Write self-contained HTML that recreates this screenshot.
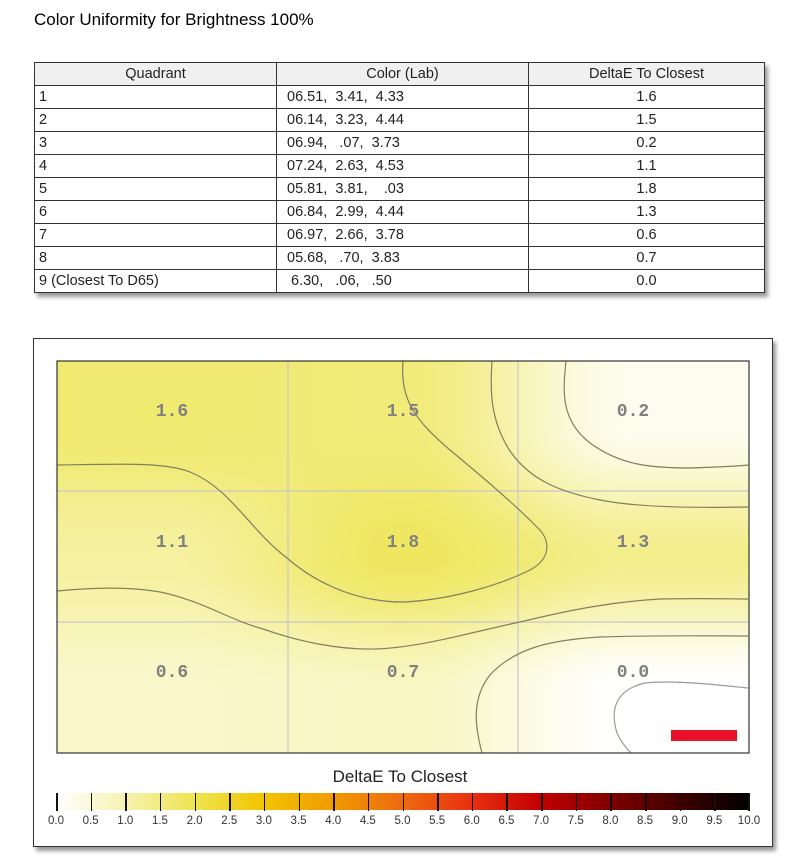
<!DOCTYPE html>
<html><head><meta charset="utf-8"><style>
body{margin:0;width:800px;height:858px;background:#fff;font-family:"Liberation Sans",sans-serif;position:relative;overflow:hidden}
.title{position:absolute;left:34px;top:10px;font-size:17px;color:#000}
table{position:absolute;left:34px;top:62px;border-collapse:collapse;font-size:14.5px;box-shadow:3px 4px 4px #999}
td,th{border:1px solid #333;height:22px;padding:0 4px;font-weight:normal;color:#222}
th{background:#f0f0f0;text-align:center}
.c2{text-align:left;padding-left:10px}.c3{text-align:center}
.box{position:absolute;left:33px;top:338px;width:738px;height:507px;border:1px solid #333;box-shadow:3px 4px 4px #999;background:#fff}
.lab{position:absolute;font-family:"Liberation Mono",monospace;font-size:18px;font-weight:bold;color:#808080;transform:translate(-50%,-50%)}
.cb{position:absolute;left:56px;top:793px;width:693px;height:17px;background:linear-gradient(90deg,#fff 0%,#f6f2b0 10%,#eee450 20%,#f2c400 30%,#f09a00 40%,#ee6a10 50%,#e83010 60%,#c00000 70%,#800000 80%,#400000 90%,#000 100%)}
.tk{position:absolute;top:793px;width:1.5px;height:18px;background:#111}
.tl{position:absolute;top:815px;font-size:11.5px;color:#333;transform:translateX(-50%)}
</style></head><body>
<div class="title">Color Uniformity for Brightness 100%</div>
<table>
<tr><th style="width:233px">Quadrant</th><th style="width:243px">Color (Lab)</th><th style="width:227px">DeltaE To Closest</th></tr>
<tr><td>1</td><td class="c2">06.51,&nbsp;&nbsp;3.41,&nbsp;&nbsp;4.33</td><td class="c3">1.6</td></tr>
<tr><td>2</td><td class="c2">06.14,&nbsp;&nbsp;3.23,&nbsp;&nbsp;4.44</td><td class="c3">1.5</td></tr>
<tr><td>3</td><td class="c2">06.94,&nbsp;&nbsp;&nbsp;.07,&nbsp;&nbsp;3.73</td><td class="c3">0.2</td></tr>
<tr><td>4</td><td class="c2">07.24,&nbsp;&nbsp;2.63,&nbsp;&nbsp;4.53</td><td class="c3">1.1</td></tr>
<tr><td>5</td><td class="c2">05.81,&nbsp;&nbsp;3.81,&nbsp;&nbsp;&nbsp;&nbsp;.03</td><td class="c3">1.8</td></tr>
<tr><td>6</td><td class="c2">06.84,&nbsp;&nbsp;2.99,&nbsp;&nbsp;4.44</td><td class="c3">1.3</td></tr>
<tr><td>7</td><td class="c2">06.97,&nbsp;&nbsp;2.66,&nbsp;&nbsp;3.78</td><td class="c3">0.6</td></tr>
<tr><td>8</td><td class="c2">05.68,&nbsp;&nbsp;&nbsp;.70,&nbsp;&nbsp;3.83</td><td class="c3">0.7</td></tr>
<tr><td>9 (Closest To D65)</td><td class="c2">&nbsp;6.30,&nbsp;&nbsp;&nbsp;.06,&nbsp;&nbsp;&nbsp;.50</td><td class="c3">0.0</td></tr>
</table>
<div class="box"></div>
<canvas id="cv" width="692" height="392" style="position:absolute;left:57px;top:361px"></canvas>
<svg style="position:absolute;left:0;top:0" width="800" height="858">
<g stroke="#c8c8c8" stroke-width="1.2" fill="none">
<line x1="288" y1="361" x2="288" y2="753"/><line x1="518" y1="361" x2="518" y2="753"/>
<line x1="57" y1="491" x2="749" y2="491"/><line x1="57" y1="622" x2="749" y2="622"/>
</g>
<g stroke="#808060" stroke-width="1.2" fill="none">
<path d="M57,465 C120,464 165,462 190,472 C230,488 250,530 287,558 C310,578 350,602 403,602 C450,600 500,585 530,570 C552,558 550,540 538,528 C510,500 480,475 450,450 C415,420 400,400 403,361"/>
<path d="M57,591 C90,588 124,586 160,592 C200,600 230,620 263,629 C300,642 340,650 375,649 C420,648 480,630 520,622 C570,610 610,602 660,599 C700,598 730,599 748,599"/>
<path d="M492,361 C490,390 490,420 510,451 C530,480 560,492 600,500 C640,508 700,508 748,507"/>
<path d="M566,361 C563,390 560,420 590,443 C620,465 650,468 690,468 C720,467 740,466 748,465"/>
<path d="M482,753 C476,730 470,700 490,675 C515,648 550,640 600,637 C660,635 720,636 748,636"/>
</g>
<path d="M748,688 C710,684 670,680 645,683 C615,690 610,710 617,733 C621,742 626,748 631,753" stroke="#999" stroke-width="1.2" fill="none"/>
<rect x="57" y="361" width="692" height="392" fill="none" stroke="#333" stroke-width="1.2"/>
<rect x="671" y="730" width="66" height="11" fill="#e8102a"/>
</svg>
<div class="lab" style="left:172px;top:412px">1.6</div>
<div class="lab" style="left:403px;top:412px">1.5</div>
<div class="lab" style="left:633px;top:412px">0.2</div>
<div class="lab" style="left:172px;top:543px">1.1</div>
<div class="lab" style="left:403px;top:543px">1.8</div>
<div class="lab" style="left:633px;top:543px">1.3</div>
<div class="lab" style="left:172px;top:673px">0.6</div>
<div class="lab" style="left:403px;top:673px">0.7</div>
<div class="lab" style="left:633px;top:673px">0.0</div>
<div style="position:absolute;left:0;width:800px;top:767px;text-align:center;font-size:17px;color:#222">DeltaE To Closest</div>
<div class="cb"></div>
<div id="ticks"></div>
<script>
var v=[[1.6,1.5,0.2],[1.1,1.8,1.3],[0.6,0.7,0.0]];
var cv=document.getElementById('cv'),c=cv.getContext('2d'),W=692,H=392,img=c.createImageData(W,H);
var stops=[[0,255,255,255],[1,246,242,168],[2,237,228,76],[3,242,196,0]];
function col(x){for(var i=0;i<stops.length-1;i++){var a=stops[i],b=stops[i+1];if(x<=b[0]){var t=Math.max(0,(x-a[0])/(b[0]-a[0]));return [a[1]+(b[1]-a[1])*t,a[2]+(b[2]-a[2])*t,a[3]+(b[3]-a[3])*t];}}return stops[3].slice(1);}
function sm(t){return t*t*(3-2*t);}
for(var y=0;y<H;y++)for(var x=0;x<W;x++){
var gx=x/W*3-0.5,gy=y/H*3-0.5;gx=Math.max(0,Math.min(2,gx));gy=Math.max(0,Math.min(2,gy));
var i=Math.min(1,Math.floor(gx)),j=Math.min(1,Math.floor(gy)),tx=sm(gx-i),ty=sm(gy-j);
var val=(v[j][i]*(1-tx)+v[j][i+1]*tx)*(1-ty)+(v[j+1][i]*(1-tx)+v[j+1][i+1]*tx)*ty;
var k=col(val),p=(y*W+x)*4;img.data[p]=k[0];img.data[p+1]=k[1];img.data[p+2]=k[2];img.data[p+3]=255;}
c.putImageData(img,0,0);
var h='';for(var n=0;n<=20;n++){var xx=56+n*693/20;h+='<div class="tk" style="left:'+(n==20?xx-1:xx)+'px"></div><div class="tl" style="left:'+xx+'px">'+(n/2).toFixed(1)+'</div>';}
document.getElementById('ticks').innerHTML=h;
</script>
</body></html>
